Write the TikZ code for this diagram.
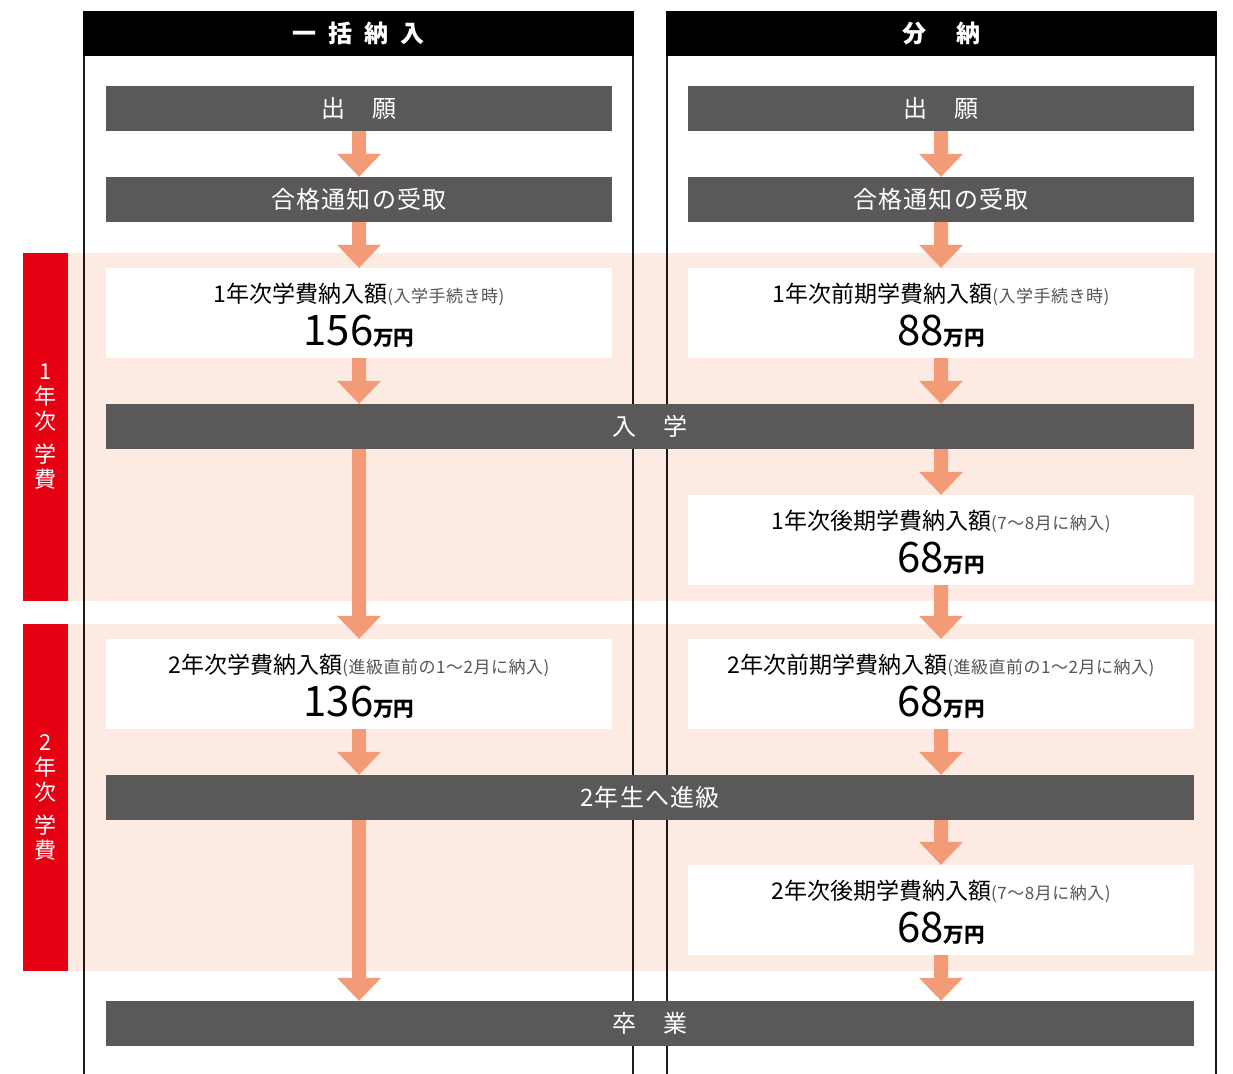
\documentclass[tikz,border=0pt]{standalone}
\usepackage{fontspec}
\setmainfont{Noto Sans CJK JP}
\usetikzlibrary{calc}
\definecolor{graybox}{HTML}{5A5858}
\definecolor{pinkband}{HTML}{FDEBE3}
\definecolor{redbar}{HTML}{E50012}
\definecolor{arrowc}{HTML}{F29B76}
\definecolor{framec}{HTML}{1A1A1A}
\definecolor{notec}{HTML}{555555}
\newcommand\flowarrow[3]{%
  \fill[arrowc] ($(#1 |- #2.south)+(-7,0)$) -- ($(#1 |- #3.north)+(-7,23)$)
    -- ($(#1 |- #3.north)+(-22,23)$) -- (#1 |- #3.north)
    -- ($(#1 |- #3.north)+(22,23)$) -- ($(#1 |- #3.north)+(7,23)$)
    -- ($(#1 |- #2.south)+(7,0)$) -- cycle;}
\newcommand\notefont{\fontsize{17}{17}\selectfont\addfontfeatures{LetterSpace=3}\color{notec}}
\newcommand\yenfont{\fontsize{20.5}{20.5}\selectfont\bfseries}
\begin{document}
\begin{tikzpicture}[x=1pt,y=1pt,
  hdr/.style={fill=black,text=white,minimum width=551pt,minimum height=45pt,inner sep=0pt,font=\fontsize{24}{24}\selectfont\bfseries},
  stepbar/.style={fill=graybox,text=white,minimum height=45pt,inner sep=0pt,font=\fontsize{24}{24}\selectfont\addfontfeatures{LetterSpace=5}},
  colbar/.style={stepbar,minimum width=506pt},
  widebar/.style={stepbar,minimum width=1088pt},
  amtbox/.style={fill=white,minimum width=506pt,minimum height=90pt,inner sep=0pt},
  ttl/.style={anchor=base,inner sep=0pt,font=\fontsize{23}{23}\selectfont},
  amt/.style={anchor=base,inner sep=0pt,font=\fontsize{42}{42}\selectfont},
  yearbar/.style={fill=redbar,text=white,minimum width=45pt,minimum height=348pt,inner sep=0pt,align=center,font=\fontsize{22}{25}\selectfont},
  frameline/.style={draw=framec,line width=2pt}
]
\useasboundingbox (0,0) rectangle (1233,-1073);
\coordinate (colL) at (359,0);
\coordinate (colR) at (941,0);
% year bands
\fill[pinkband] (68,-253) rectangle (1217,-601);
\fill[pinkband] (68,-624) rectangle (1217,-971);
\node[yearbar] (y1) at (45.5,-427) {1\\年\\次\\[8pt]学\\費};
\node[yearbar,minimum height=347pt] (y2) at (45.5,-797.5) {2\\年\\次\\[8pt]学\\費};
% headers
\node[hdr] (hL) at (358.5,-33.5) {一\hspace{12pt}括\hspace{12pt}納\hspace{12pt}入};
\node[hdr] (hR) at (941.5,-33.5) {分\hspace{30pt}納};
% frame lines
\draw[frameline] ([xshift=1pt]hL.south west) -- ++(0,-1020);
\draw[frameline] ([xshift=-1pt]hL.south east) -- ++(0,-1020);
\draw[frameline] ([xshift=1pt]hR.south west) -- ++(0,-1020);
\draw[frameline] ([xshift=-1pt]hR.south east) -- ++(0,-1020);
% step bars
\node[colbar] (s1L) at (359,-108.5) {出　願};
\node[colbar] (s1R) at (941,-108.5) {出　願};
\node[colbar] (s2L) at (359,-199.5) {合格通知の受取};
\node[colbar] (s2R) at (941,-199.5) {合格通知の受取};
\node[widebar] (enter) at (650,-426.5) {入　学};
\node[widebar] (prom) at (650,-797.5) {2年生へ進級};
\node[widebar] (grad) at (650,-1023.5) {卒　業};
% amount boxes
\node[amtbox] (a1L) at (359,-313) {};
\node[ttl] at ($(a1L.center)+(0,11)$) {1年次学費納入額{\notefont(入学手続き時)}};
\node[amt] at ($(a1L.center)+(0,-32)$) {156{\yenfont 万円}};
\node[amtbox] (a1R) at (941,-313) {};
\node[ttl] at ($(a1R.center)+(0,11)$) {1年次前期学費納入額{\notefont(入学手続き時)}};
\node[amt] at ($(a1R.center)+(0,-32)$) {88{\yenfont 万円}};
\node[amtbox] (a1bR) at (941,-540) {};
\node[ttl] at ($(a1bR.center)+(0,11)$) {1年次後期学費納入額{\notefont(7〜8月に納入)}};
\node[amt] at ($(a1bR.center)+(0,-32)$) {68{\yenfont 万円}};
\node[amtbox] (a2L) at (359,-684) {};
\node[ttl] at ($(a2L.center)+(0,11)$) {2年次学費納入額{\notefont(進級直前の1〜2月に納入)}};
\node[amt] at ($(a2L.center)+(0,-32)$) {136{\yenfont 万円}};
\node[amtbox] (a2R) at (941,-684) {};
\node[ttl] at ($(a2R.center)+(0,11)$) {2年次前期学費納入額{\notefont(進級直前の1〜2月に納入)}};
\node[amt] at ($(a2R.center)+(0,-32)$) {68{\yenfont 万円}};
\node[amtbox] (a2bR) at (941,-910) {};
\node[ttl] at ($(a2bR.center)+(0,11)$) {2年次後期学費納入額{\notefont(7〜8月に納入)}};
\node[amt] at ($(a2bR.center)+(0,-32)$) {68{\yenfont 万円}};
% arrows
\flowarrow{colL}{s1L}{s2L}
\flowarrow{colL}{s2L}{a1L}
\flowarrow{colL}{a1L}{enter}
\flowarrow{colL}{enter}{a2L}
\flowarrow{colL}{a2L}{prom}
\flowarrow{colL}{prom}{grad}
\flowarrow{colR}{s1R}{s2R}
\flowarrow{colR}{s2R}{a1R}
\flowarrow{colR}{a1R}{enter}
\flowarrow{colR}{enter}{a1bR}
\flowarrow{colR}{a1bR}{a2R}
\flowarrow{colR}{a2R}{prom}
\flowarrow{colR}{prom}{a2bR}
\flowarrow{colR}{a2bR}{grad}
\end{tikzpicture}
\end{document}
